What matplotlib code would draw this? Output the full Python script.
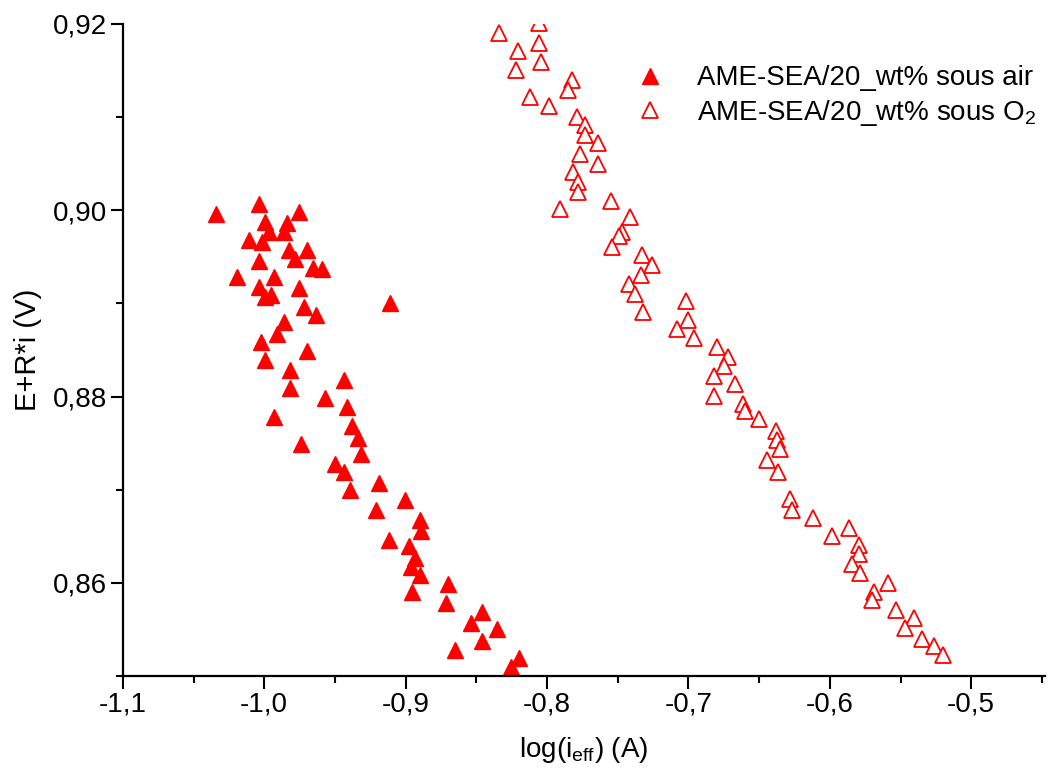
import matplotlib
matplotlib.use("Agg")
import matplotlib.pyplot as plt
from matplotlib.ticker import MultipleLocator, FuncFormatter

plt.rcParams["font.family"] = ["Liberation Sans", "DejaVu Sans"]
plt.rcParams["mathtext.fontset"] = "custom"
plt.rcParams["mathtext.rm"] = "Liberation Sans"
plt.rcParams["mathtext.it"] = "Liberation Sans"

# Data
air_x = [-1.0338, -1.0039, -0.9756, -0.9992, -0.9839, -0.9966, -0.9862, -1.0107,
         -1.0016, -0.9825, -0.9695, -1.0039, -0.9780, -0.9655, -0.9592, -1.0196,
         -0.9933, -1.0039, -0.9756, -0.9996, -0.9949, -0.9719, -0.9113, -0.9636,
         -0.9860, -0.9910, -1.0020, -0.9698, -0.9996, -0.9820, -0.9436, -0.9820,
         -0.9572, -0.9415, -0.9931, -0.9377, -0.9339, -0.9737, -0.9318, -0.9497,
         -0.9436, -0.9396, -0.9189, -0.9207, -0.9007, -0.8901, -0.8889, -0.9118,
         -0.8977, -0.8936, -0.8960, -0.8901, -0.8953, -0.8701, -0.8717, -0.8458,
         -0.8541, -0.8355, -0.8458, -0.8654, -0.8201, -0.8253]
air_y = [0.8996, 0.9007, 0.8998, 0.8987, 0.8986, 0.8977, 0.8977, 0.8968,
         0.8966, 0.8957, 0.8957, 0.8946, 0.8948, 0.8938, 0.8937, 0.8928,
         0.8928, 0.8918, 0.8917, 0.8907, 0.8909, 0.8896, 0.8900, 0.8887,
         0.8880, 0.8867, 0.8858, 0.8849, 0.8839, 0.8829, 0.8818, 0.8809,
         0.8798, 0.8789, 0.8778, 0.8768, 0.8756, 0.8749, 0.8738, 0.8728,
         0.8719, 0.8700, 0.8707, 0.8678, 0.8689, 0.8667, 0.8656, 0.8646,
         0.8639, 0.8627, 0.8617, 0.8608, 0.8590, 0.8599, 0.8578, 0.8569,
         0.8557, 0.8550, 0.8538, 0.8528, 0.8519, 0.8510]

o2_x = [-0.8341, -0.8058, -0.8206, -0.8060, -0.8218, -0.8046, -0.7822, -0.7853,
        -0.8117, -0.7989, -0.7789, -0.7728, -0.7735, -0.7641, -0.7770, -0.7641,
        -0.7813, -0.7782, -0.7782, -0.7905, -0.7551, -0.7415, -0.7469, -0.7493,
        -0.7539, -0.7330, -0.7257, -0.7334, -0.7417, -0.7377, -0.7318, -0.7016,
        -0.7002, -0.7083, -0.6963, -0.6800, -0.6719, -0.6751, -0.6821, -0.6671,
        -0.6821, -0.6611, -0.6597, -0.6498, -0.6382, -0.6376, -0.6350, -0.6445,
        -0.6364, -0.6279, -0.6270, -0.6119, -0.5986, -0.5864, -0.5797, -0.5792,
        -0.5844, -0.5788, -0.5592, -0.5686, -0.5702, -0.5532, -0.5403, -0.5469,
        -0.5350, -0.5264, -0.5198]
o2_y = [0.9190, 0.9201, 0.9171, 0.9179, 0.9151, 0.9159, 0.9140, 0.9129,
        0.9122, 0.9112, 0.9100, 0.9091, 0.9081, 0.9072, 0.9060, 0.9050,
        0.9041, 0.9030, 0.9020, 0.9001, 0.9010, 0.8993, 0.8977, 0.8972,
        0.8961, 0.8952, 0.8941, 0.8930, 0.8921, 0.8910, 0.8891, 0.8903,
        0.8882, 0.8872, 0.8863, 0.8853, 0.8842, 0.8833, 0.8822, 0.8813,
        0.8801, 0.8792, 0.8784, 0.8776, 0.8763, 0.8753, 0.8744, 0.8732,
        0.8719, 0.8690, 0.8678, 0.8670, 0.8650, 0.8659, 0.8641, 0.8631,
        0.8620, 0.8611, 0.8600, 0.8590, 0.8582, 0.8571, 0.8562, 0.8551,
        0.8540, 0.8532, 0.8522]

label_air = "AME-SEA/20_wt% sous air"
label_o2 = "AME-SEA/20_wt% sous O$_2$"

fig = plt.figure(figsize=(10.5, 7.72), dpi=100)
ax = fig.add_axes([0.117, 0.1244, 0.878, 0.8446])

ax.plot(air_x, air_y, linestyle="none", marker="^", ms=12,
        color="#ff0000", mec="#ff0000", label=label_air)
ax.plot(o2_x, o2_y, linestyle="none", marker="^", ms=12,
        mfc="white", mec="#ff0000", mew=1.3, label=label_o2)

ax.set_xlim(-1.1, -0.448)
ax.set_ylim(0.85, 0.92)

ax.xaxis.set_major_locator(MultipleLocator(0.1))
ax.xaxis.set_minor_locator(MultipleLocator(0.05))
ax.yaxis.set_major_locator(MultipleLocator(0.02))
ax.yaxis.set_minor_locator(MultipleLocator(0.01))
ax.xaxis.set_major_formatter(FuncFormatter(lambda v, p: f"{v:.1f}".replace(".", ",")))
ax.yaxis.set_major_formatter(FuncFormatter(lambda v, p: f"{v:.2f}".replace(".", ",")))

for s in ["top", "right"]:
    ax.spines[s].set_visible(False)
for s in ["left", "bottom"]:
    ax.spines[s].set_linewidth(1.6)

ax.tick_params(which="major", direction="out", length=9, width=1.5, labelsize=20, pad=2.5)
ax.tick_params(which="minor", direction="out", length=5, width=1.5)

ax.set_xlabel("log(i$_{\\rm eff}$) (A)", fontsize=20, labelpad=12)
ax.set_ylabel("E+R*i (V)", fontsize=21, labelpad=8)

ax.legend(loc="upper right", bbox_to_anchor=(1.018, 0.975), frameon=False,
          fontsize=20, handletextpad=0.7, labelspacing=0.25, numpoints=1)

fig.savefig("out.png", dpi=100)
